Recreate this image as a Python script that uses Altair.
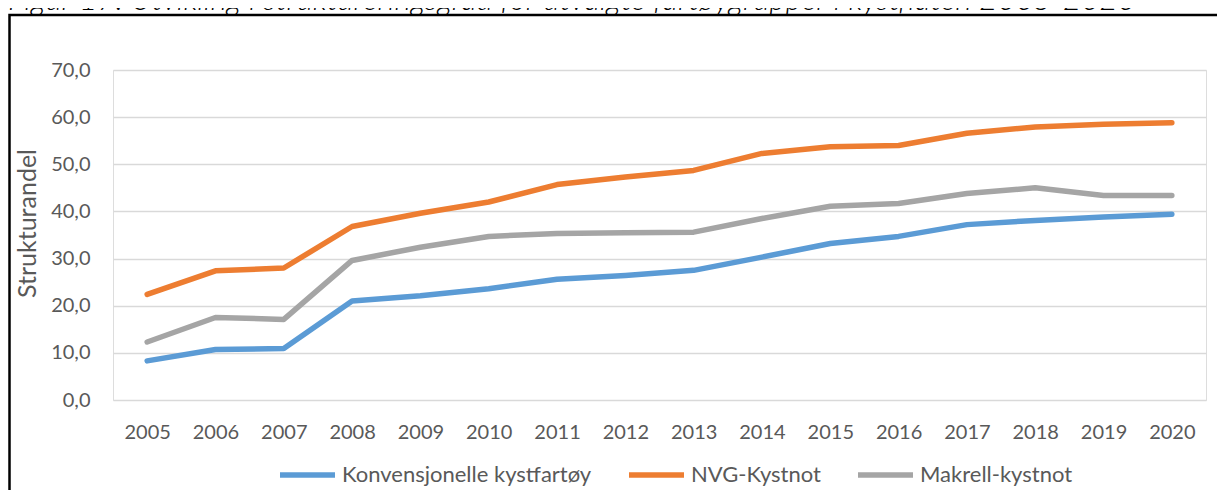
import altair as alt
import pandas as pd

years = [str(y) for y in range(2005, 2021)]
series_names = ["Konvensjonelle kystfartøy", "NVG-Kystnot", "Makrell-kystnot"]
konv = [8.3, 10.7, 10.9, 21.0, 22.1, 23.6, 25.6, 26.4, 27.5, 30.3, 33.2, 34.7, 37.2, 38.1, 38.8, 39.4]
nvg = [22.4, 27.4, 28.0, 36.8, 39.6, 42.0, 45.7, 47.3, 48.7, 52.3, 53.7, 54.0, 56.6, 57.9, 58.5, 58.8]
makrell = [12.3, 17.5, 17.1, 29.6, 32.4, 34.7, 35.3, 35.5, 35.6, 38.5, 41.1, 41.7, 43.8, 45.0, 43.4, 43.4]
colors = ["#5B9BD5", "#ED7D31", "#A5A5A5"]
y_ticks = [0, 10, 20, 30, 40, 50, 60, 70]
title_text = "Figur 17: Utvikling i struktureringsgrad for utvalgte fartøygrupper i kystflåten 2005-2020"

rows = []
for name, vals in zip(series_names, [konv, nvg, makrell]):
    for yr, v in zip(years, vals):
        rows.append({"year": yr, "value": v, "series": name})
df = pd.DataFrame(rows)

W, H = 1093, 330
FONT = "Lato"
GREY = "#595959"

lines = alt.Chart(df).mark_line(strokeWidth=5.5, strokeCap="round", strokeJoin="round").encode(
    x=alt.X("year:O", scale=alt.Scale(type="point", padding=0.5),
            axis=alt.Axis(title=None, labelAngle=0, domain=False, ticks=False, grid=False,
                          labelFont=FONT, labelFontSize=20, labelColor=GREY, labelPadding=22)),
    y=alt.Y("value:Q", scale=alt.Scale(domain=[0, 70], nice=False),
            axis=alt.Axis(title="Strukturandel", values=y_ticks, domain=False, ticks=False,
                          grid=True, gridColor="#D9D9D9", gridWidth=1.3,
                          labelExpr="replace(format(datum.value, '.1f'), '.', ',')",
                          labelFont=FONT, labelFontSize=20, labelColor=GREY, labelPadding=23,
                          titleFont=FONT, titleFontSize=25, titleFontWeight="normal",
                          titleColor=GREY, titlePadding=10, titleY=153)),
    color=alt.Color("series:N", scale=alt.Scale(domain=series_names, range=colors),
                    sort=series_names,
                    legend=alt.Legend(title=None, orient="none", direction="horizontal",
                                      legendX=164, legendY=374.5, gridAlign="none",
                                      symbolType="stroke", symbolSize=3025, symbolStrokeWidth=5.5,
                                      labelFont=FONT, labelFontSize=22, labelColor=GREY,
                                      labelOffset=4, columnPadding=26, labelLimit=400)),
)

frame_df = pd.DataFrame({"k": [0]})
frame = alt.Chart(frame_df).mark_rect(fill="transparent", stroke="black", strokeWidth=2.5).encode(
    x=alt.value(-103.5), x2=alt.value(W + 40), y=alt.value(-55), y2=alt.value(H + 120)
)

title_df = pd.DataFrame({"t": [title_text]})
title = alt.Chart(title_df).mark_text(
    align="left", baseline="alphabetic", font=FONT, fontSize=31.3, fontStyle="italic",
    fontWeight=300, color="black"
).encode(text="t:N", x=alt.value(-105), y=alt.value(-60))

chart = alt.layer(frame, lines, title).properties(
    width=W, height=H,
    autosize=alt.AutoSizeParams(type="none"),
    padding={"left": 105, "top": 62, "right": 11, "bottom": 90},
).configure_view(stroke=None).configure(background="white")

chart.save("out.html", embed_options={"renderer": "svg", "actions": False})
